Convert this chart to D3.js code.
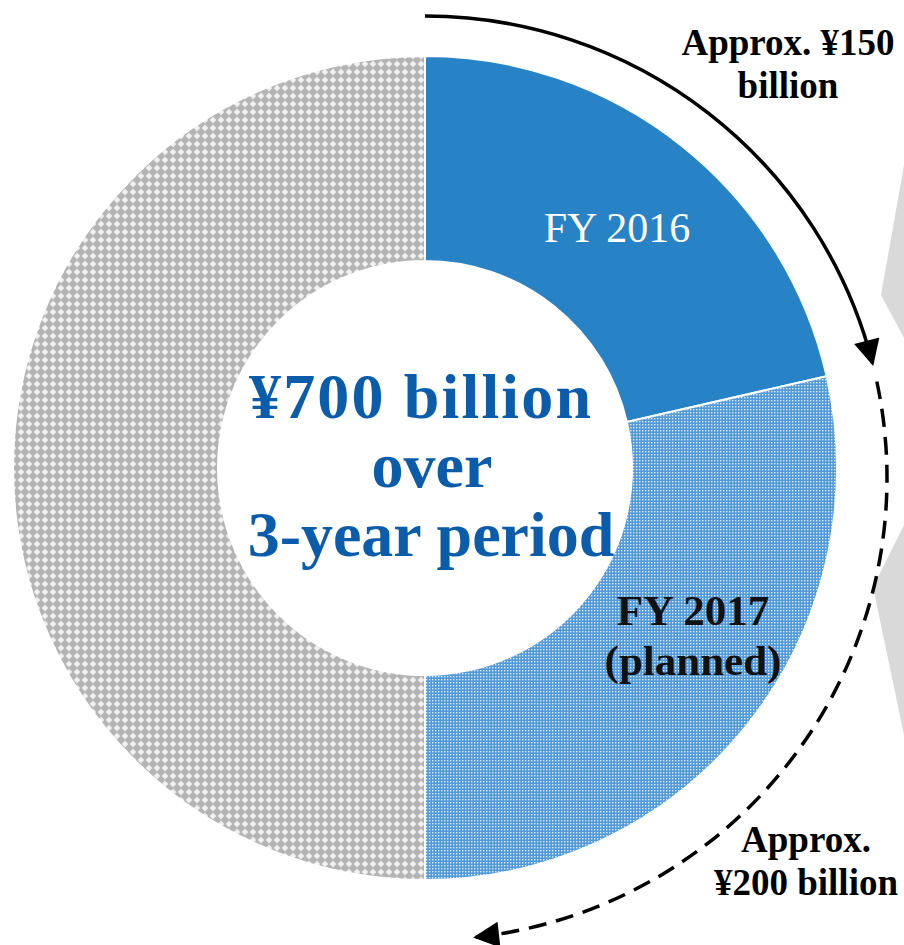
<!DOCTYPE html>
<html>
<head>
<meta charset="utf-8">
<script src="https://cdn.jsdelivr.net/npm/d3@7"></script>
<style>
  html, body { margin: 0; padding: 0; background: #fff; }
  svg { display: block; }
  text { font-family: "Liberation Serif", "Times New Roman", serif; }
</style>
</head>
<body>
<div id="chart"></div>
<script>
// data (¥ billion)
const categories = ["FY 2016", "FY 2017 (planned)", "Remaining"];
const values = [150, 200, 350];
const centerLines = ["¥700 billion", "over", "3-year period"];
const noteFirst = ["Approx. ¥150", "billion"];
const noteSecond = ["Approx.", "¥200 billion"];

const width = 904, height = 945;
const cx = 425, cy = 468;
const outerR = 412, innerR = 207;

const svg = d3.select("#chart").append("svg")
    .attr("width", width)
    .attr("height", height);

const defs = svg.append("defs");

// gray diamond pattern for the remaining part
const pGray = defs.append("pattern")
    .attr("id", "grayPat")
    .attr("patternUnits", "userSpaceOnUse")
    .attr("width", 8).attr("height", 8);
pGray.append("rect").attr("width", 8).attr("height", 8).attr("fill", "#b4b4b4");
pGray.append("path").attr("d", "M4 0.6 L7.4 4 L4 7.4 L0.6 4 Z").attr("fill", "#ececec");
pGray.append("rect").attr("x", 3.3).attr("y", 3.3).attr("width", 1.4).attr("height", 1.4).attr("fill", "#ffffff");

// fine blue dot pattern for FY 2017
const pBlue = defs.append("pattern")
    .attr("id", "bluePat")
    .attr("patternUnits", "userSpaceOnUse")
    .attr("width", 3).attr("height", 3);
pBlue.append("rect").attr("width", 3).attr("height", 3).attr("fill", "#5199d9");
pBlue.append("rect").attr("x", 1).attr("y", 1).attr("width", 1.4).attr("height", 1.4).attr("fill", "#dcebf8");

// arrowhead
defs.append("marker")
    .attr("id", "arrow")
    .attr("viewBox", "0 0 10 10")
    .attr("refX", 9).attr("refY", 5)
    .attr("markerUnits", "userSpaceOnUse")
    .attr("markerWidth", 27).attr("markerHeight", 26)
    .attr("orient", "auto")
  .append("path")
    .attr("d", "M0 0 L10 5 L0 10 Z")
    .attr("fill", "#000");

const fills = ["#2882c6", "url(#bluePat)", "url(#grayPat)"];

const pie = d3.pie().sort(null).value(d => d)(values);
const arc = d3.arc().innerRadius(innerR).outerRadius(outerR);

// gray chevrons clipped at the right edge
const chevrons = [
    [[904, 165], [881, 295], [904, 338]],
    [[904, 525], [873, 587], [904, 735]]
];
svg.append("g").selectAll("path")
    .data(chevrons)
    .join("path")
    .attr("d", d => d3.line()(d) + "Z")
    .attr("fill", "#d9d9d9");

const g = svg.append("g").attr("transform", `translate(${cx},${cy})`);

g.selectAll("path.slice")
    .data(pie)
    .join("path")
    .attr("class", "slice")
    .attr("d", arc)
    .attr("fill", (d, i) => fills[i])
    .attr("stroke", "#fff")
    .attr("stroke-width", 2);

// slice labels
g.append("text")
    .attr("x", 192).attr("y", -226)
    .attr("text-anchor", "middle")
    .attr("fill", "#fff")
    .attr("font-size", 42)
    .text(categories[0]);

const fy17 = categories[1].split(" (");
g.append("text")
    .attr("text-anchor", "middle")
    .attr("font-size", 43)
    .attr("font-weight", "bold")
    .attr("fill", "#111")
    .selectAll("tspan")
    .data([fy17[0], "(" + fy17[1]])
    .join("tspan")
    .attr("x", 268)
    .attr("y", (d, i) => 157 + i * 50)
    .text(d => d);

// center text
const ct = g.append("text")
    .attr("text-anchor", "middle")
    .attr("font-size", 64)
    .attr("font-weight", "bold")
    .attr("fill", "#0b5dab");
ct.selectAll("tspan")
    .data(centerLines)
    .join("tspan")
    .attr("x", (d, i) => i === 1 ? 7 : (i === 0 ? -5 : 6))
    .attr("y", (d, i) => -50 + i * 69)
    .text(d => d);
ct.select("tspan").attr("textLength", 342).attr("lengthAdjust", "spacing");

// arrows following the slices
const ax = cx, ay = cy + 10, ar = 462;
const deg = Math.PI / 180;
function arcPath(a0, a1) {
    const p = d3.path();
    p.arc(ax, ay, ar, a0 - Math.PI / 2, a1 - Math.PI / 2, false);
    return p.toString();
}
svg.append("path")
    .attr("d", arcPath(pie[0].startAngle, pie[0].endAngle - 1.5 * deg))
    .attr("fill", "none")
    .attr("stroke", "#000")
    .attr("stroke-width", 3.5)
    .attr("marker-end", "url(#arrow)");

svg.append("path")
    .attr("d", arcPath(pie[1].startAngle + 0.8 * deg, pie[1].endAngle - 6.3 * deg))
    .attr("fill", "none")
    .attr("stroke", "#000")
    .attr("stroke-width", 3.5)
    .attr("stroke-dasharray", "18 10")
    .attr("marker-end", "url(#arrow)");

// annotations
function note(lines, x, y0, gap) {
    svg.append("text")
        .attr("text-anchor", "middle")
        .attr("font-size", 37)
        .attr("font-weight", "bold")
        .attr("fill", "#000")
        .selectAll("tspan")
        .data(lines)
        .join("tspan")
        .attr("x", x)
        .attr("y", (d, i) => y0 + i * gap)
        .text(d => d);
}
note(noteFirst, 788, 55, 43);
note(noteSecond, 806, 852, 43);
</script>
</body>
</html>
